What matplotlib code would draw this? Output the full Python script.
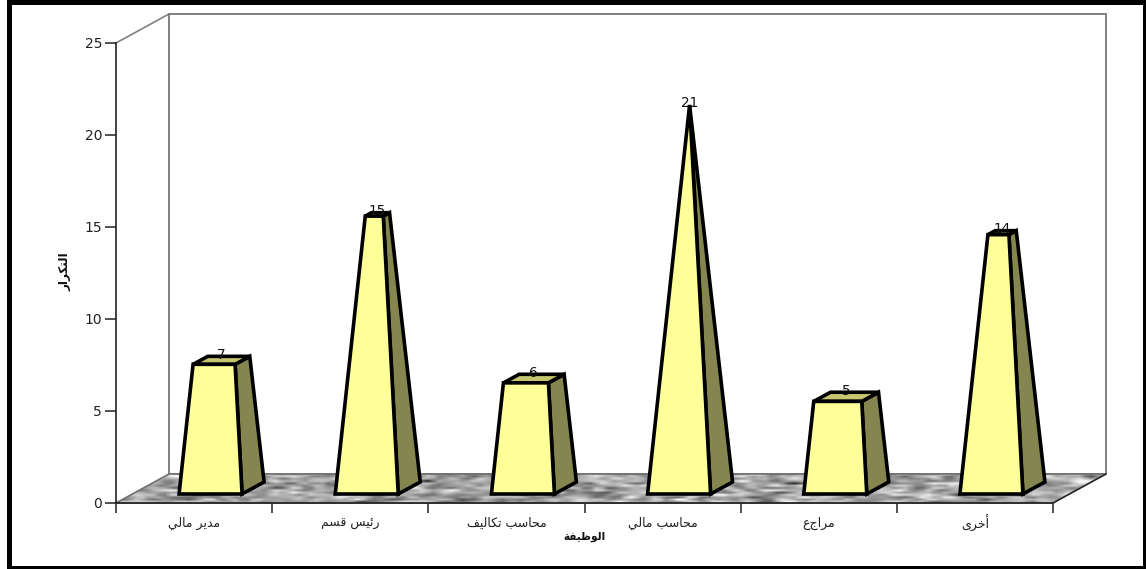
#!/usr/bin/env python
# -*- coding: utf-8 -*-

import numpy as np
import matplotlib
matplotlib.use('Agg')
import matplotlib.pyplot as plt
from matplotlib.patches import Polygon, Rectangle

categories = ['مدير مالي', 'رئيس قسم', 'محاسب تكاليف', 'محاسب مالي', 'مراجع', 'أخرى']
values = [7, 15, 6, 21, 5, 14]
y_ticks = [0, 5, 10, 15, 20, 25]
x_title = 'الوظيفة'
y_title = 'التكرار'

W, H = 1146, 569
X0, X1, Y0, Y1 = 116, 1053, 503, 43   # plot box in pixels
PX = (X1 - X0) / 6.0    # pixels per category
PY = (Y0 - Y1) / 25.0   # pixels per unit

# depth of the box and of the pyramids, in data units
wall_dx, wall_dy = 53 / PX, 29 / PY
bar_w = 63 / PX
bar_dx, bar_dy = 22 / PX, 12 / PY
base_lift = 9 / PY
base_shift = -15 / PX
apex_dx, apex_dy = 42 / PX, 389 / PY

FRONT, SIDE, TOP = '#ffff99', '#858550', '#c6c670'

# first code point of the isolated form, number of forms
forms = {'ا': (0xFE8D, 2), 'أ': (0xFE83, 2), 'ئ': (0xFE89, 4), 'ب': (0xFE8F, 4),
         'ة': (0xFE93, 2), 'ت': (0xFE95, 4), 'ح': (0xFEA1, 4), 'خ': (0xFEA5, 4),
         'د': (0xFEA9, 2), 'ر': (0xFEAD, 2), 'س': (0xFEB1, 4), 'ظ': (0xFEC5, 4),
         'ع': (0xFEC9, 4), 'ف': (0xFED1, 4), 'ق': (0xFED5, 4), 'ك': (0xFED9, 4),
         'ل': (0xFEDD, 4), 'م': (0xFEE1, 4), 'و': (0xFEED, 2), 'ى': (0xFEEF, 2),
         'ي': (0xFEF1, 4), 'ن': (0xFEE5, 4)}


def shape(text):
    # matplotlib has no arabic shaping, pick the joined glyphs by hand
    out = []
    for i, c in enumerate(text):
        if c not in forms:
            out.append(c)
            continue
        base, n = forms[c]
        prev = text[i - 1] if i > 0 else ' '
        nxt = text[i + 1] if i + 1 < len(text) else ' '
        after = prev in forms and forms[prev][1] == 4
        before = n == 4 and nxt in forms
        out.append(chr(base + (1 if after else 0) + (2 if before else 0)))
    return ''.join(out)[::-1]


def granite(ax, clip):
    # floor texture only, elongated grey blotches
    rng = np.random.default_rng(3)
    g = rng.normal(size=(13, 170))
    g = (2 * g + np.roll(g, 1, 1) + np.roll(g, -1, 1)) / 3.0
    g = 165 + 42 * g
    im = ax.imshow(g, cmap='gray', vmin=0, vmax=255, aspect='auto', interpolation='bilinear',
                   extent=(0, 6 + wall_dx, 0, wall_dy), zorder=1)
    im.set_clip_box(fig.bbox)
    im.set_clip_path(clip)


def pyramid(ax, i, v):
    x = i + 0.5 + base_shift
    y = base_lift
    t = v / max(values)
    fl = (x, y)
    fr = (x + bar_w, y)
    br = (x + bar_w + bar_dx, y + bar_dy)
    apex = (x + apex_dx, y + apex_dy)

    def up(p):
        return (p[0] + t * (apex[0] - p[0]), p[1] + t * (apex[1] - p[1]))

    bl = (x + bar_dx, y + bar_dy)
    style = dict(edgecolor='black', lw=2.6, joinstyle='miter', clip_on=False)
    ax.add_patch(Polygon([fr, br, up(br), up(fr)], facecolor=SIDE, zorder=3, **style))
    ax.add_patch(Polygon([up(fl), up(fr), up(br), up(bl)], facecolor=TOP, zorder=3, **style))
    ax.add_patch(Polygon([fl, fr, up(fr), up(fl)], facecolor=FRONT, zorder=4, **style))
    top = up(bl)
    ax.text((up(fl)[0] + up(br)[0]) / 2.0, top[1] + 1.5 / PY, str(v), ha='center', va='center',
            fontsize=9.8, color='#111111', zorder=6)


fig = plt.figure(figsize=(W / 100.0, H / 100.0), dpi=100)
plt.rcParams['font.family'] = ['DejaVu Sans']
fig.patch.set_facecolor('white')
# black frame round the chart
fig.add_artist(Rectangle((8.5 / W, 1 - 567.5 / H), (1145 - 8.5) / W, (567.5 - 1.5) / H,
                         transform=fig.transFigure, fill=False, edgecolor='black', lw=3.6))

ax = fig.add_axes([X0 / W, 1 - Y0 / H, (X1 - X0) / W, (Y0 - Y1) / H])
ax.set_facecolor('none')

# back wall, side wall edge and floor
ax.add_patch(Polygon([(wall_dx, wall_dy), (6 + wall_dx, wall_dy), (6 + wall_dx, 25 + wall_dy), (wall_dx, 25 + wall_dy)],
                     facecolor='white', edgecolor='#808080', lw=1.4, clip_on=False, zorder=1))
ax.plot([0, wall_dx], [25, 25 + wall_dy], color='#808080', lw=1.2, clip_on=False, zorder=1)
floor = Polygon([(0, 0), (6, 0), (6 + wall_dx, wall_dy), (wall_dx, wall_dy)], transform=ax.transData,
                facecolor='none', edgecolor='#707070', lw=1.2, clip_on=False, zorder=2)
granite(ax, floor)
ax.add_patch(floor)
ax.plot([6, 6 + wall_dx], [0, wall_dy], color='#222222', lw=1, clip_on=False, zorder=2)

for i, v in enumerate(values):
    pyramid(ax, i, v)

ax.set_xlim(0, 6)
ax.set_ylim(0, 25)
ax.spines['top'].set_visible(False)
ax.spines['right'].set_visible(False)
for side in ['left', 'bottom']:
    ax.spines[side].set_color('#222222')
    ax.spines[side].set_linewidth(1.2)
    ax.spines[side].set_zorder(5)
ax.set_yticks(y_ticks)
ax.tick_params(axis='y', length=8, width=1.1, color='#222222', labelsize=10, pad=2, labelcolor='#222222')
ax.set_xticks(range(7))
ax.set_xticklabels([])
ax.tick_params(axis='x', length=7, width=1.1, color='#222222')

for i, c in enumerate(categories):
    ax.text(i + 0.5, -20 / PY, shape(c), ha='center', va='center', fontsize=9, color='#222222')
ax.text(3, -34 / PY, shape(x_title), ha='center', va='center', fontsize=7.6, fontweight='bold', color='#111111')
ax.text(-51 / PX, 231 / PY, shape(y_title), rotation=90, ha='center', va='center', fontsize=8.6,
        fontweight='bold', color='#111111')

plt.savefig('out.png', dpi=100)
